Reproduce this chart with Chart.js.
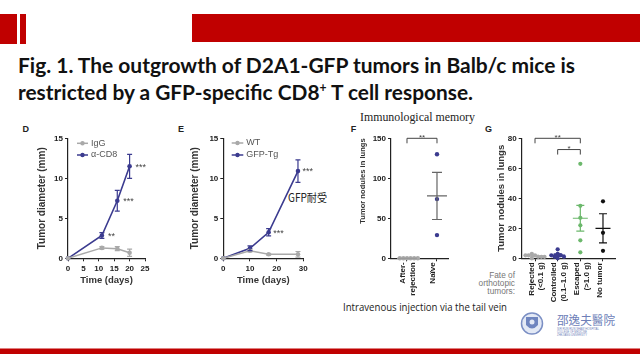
<!DOCTYPE html>
<html><head><meta charset="utf-8">
<script src="https://cdn.jsdelivr.net/npm/chart.js@4.4.0/dist/chart.umd.min.js"></script>
<style>
html,body{margin:0;padding:0;background:#fff;}
#stage{position:relative;width:640px;height:360px;overflow:hidden;background:#fff;}
canvas{position:absolute;}
svg{position:absolute;left:0;top:0;}
</style></head><body>
<div id="stage">
<svg width="640" height="360" xmlns="http://www.w3.org/2000/svg">
  <rect x="0" y="14" width="17" height="30" fill="#c00000"/>
  <rect x="20" y="14" width="6" height="30" fill="#c00000"/>
  <rect x="192" y="14" width="448" height="28" fill="#c00000"/>
  <text x="18" y="72.5" font-family="Lato, 'Open Sans', 'Liberation Sans', sans-serif" font-weight="700" font-size="21.5" textLength="557" lengthAdjust="spacingAndGlyphs" fill="#111">Fig. 1. The outgrowth of D2A1-GFP tumors in Balb/c mice is</text>
  <text x="18" y="99.5" font-family="Lato, 'Open Sans', 'Liberation Sans', sans-serif" font-weight="700" font-size="21.5" textLength="455" lengthAdjust="spacingAndGlyphs" fill="#111">restricted by a GFP-specific CD8<tspan dy="-7.5" font-size="12.5">+</tspan><tspan dy="7.5"> T cell response.</tspan></text>
  <text x="360" y="120.5" font-family="'Liberation Serif', 'DejaVu Serif', serif" font-size="11.5" textLength="115" lengthAdjust="spacingAndGlyphs" fill="#222">Immunological memory</text>
  <g font-family="'Liberation Sans', Arial, sans-serif" font-weight="700" font-size="9" fill="#222">
    <text x="22.5" y="131.5">D</text>
    <text x="178" y="131.5">E</text>
    <text x="350.7" y="131.5">F</text>
    <text x="485" y="131.5">G</text>
  </g>
  <text x="288" y="202" font-family="'Noto Sans CJK SC', sans-serif" font-size="11.5" textLength="39" lengthAdjust="spacingAndGlyphs" fill="#222">GFP耐受</text>
  <g font-family="'Liberation Sans', Arial, sans-serif" font-size="8.3" fill="#777" text-anchor="end">
    <text x="515" y="277.5">Fate of</text>
    <text x="515" y="285.5">orthotopic</text>
    <text x="515" y="293.5">tumors:</text>
  </g>
  <text x="343" y="311" font-family="'Open Sans', 'Liberation Sans', sans-serif" font-size="10" textLength="164" lengthAdjust="spacingAndGlyphs" fill="#222">Intravenous injection via the tail vein</text>
  <g>
    <circle cx="532" cy="323.5" r="10.5" fill="#e3e9f5" stroke="#7b8fc4" stroke-width="1.5"/>
    <path d="M526 317 L538 317 L538 325 Q532 332 526 325 Z" fill="#6f85bf"/>
    <circle cx="532" cy="322" r="2.5" fill="#e3e9f5"/>
  </g>
  <text x="557" y="325" font-family="'Noto Sans CJK TC', sans-serif" font-size="12" textLength="58" lengthAdjust="spacingAndGlyphs" fill="#6e80b8">邵逸夫醫院</text>
  <g font-family="'Liberation Sans', Arial, sans-serif" font-size="2.8" fill="#6e80b8">
    <text x="557" y="329.5" textLength="42" lengthAdjust="spacingAndGlyphs">SIR RUN RUN SHAW HOSPITAL</text>
    <text x="557" y="332.5" textLength="30" lengthAdjust="spacingAndGlyphs">COLLEGE OF MEDICINE</text>
    <text x="557" y="335.5" textLength="30" lengthAdjust="spacingAndGlyphs">ZHEJIANG UNIVERSITY</text>
  </g>
  <rect x="0" y="348.5" width="640" height="5.5" fill="#c00000"/>
</svg>
<canvas id="cD"></canvas>
<canvas id="cE"></canvas>
<canvas id="cF"></canvas>
<canvas id="cG"></canvas>
</div>
<script>
// ---------------- DATA ----------------
// Panel D
const daysD = [0, 11, 16, 20];
const iggMean = [0, 1.3, 1.2, 0.7];
const iggErr = [0, 0.15, 0.25, 0.45];
const cd8Mean = [0, 2.85, 7.2, 11.5];
const cd8Err = [0, 0.35, 1.3, 1.5];
const sigD = ['', '**', '***', '***'];
const xTicksD = [0, 5, 10, 15, 20, 25];
const yTicksD = [0, 5, 10, 15];

// Panel E
const daysE = [0, 10, 17, 28];
const wtMean = [0, 0.95, 0.5, 0.5];
const wtErr = [0, 0.15, 0.1, 0.35];
const gfpMean = [0, 1.25, 3.25, 10.9];
const gfpErr = [0, 0.3, 0.45, 1.4];
const sigE = ['', '', '***', '***'];
const xTicksE = [0, 10, 20, 30];
const yTicksE = [0, 5, 10, 15];

// Panel F
const groupsF = [['After-', 'rejection'], 'Naïve'];
const nodulesF = [[0, 0, 0, 0, 0, 0], [130, 74, 29]];
const meanF = [0, 78];
const semF = [0, 29.5];
const yTicksF = [0, 50, 100, 150];

// Panel G
const groupsG = [['Rejected', '(<0.1 g)'], ['Controlled', '(0.1–1.0 g)'], ['Escaped', '(>1.0 g)'], 'No tumor'];
const nodulesG = [[2, 1, 3, 1, 2, 0, 1, 2], [6, 3, 2, 1, 1, 2, 0], [63, 35, 27, 22, 12, 4], [38, 17, 5]];
const meanG = [1.5, 2.1, 26.7, 20];
const semG = [0.4, 0.8, 8.6, 9.7];
const yTicksG = [0, 20, 40, 60, 80];

// ---------------- STYLE ----------------
const NAVY = '#3b3b8f', GREY = '#a9a9a9', GREEN = '#6cb86c', AX = '#222';
Chart.defaults.font.family = '"Liberation Sans", Arial, sans-serif';
Chart.defaults.animation = false;

function setupCanvas(id, box) {
  const c = document.getElementById(id);
  c.width = box.w; c.height = box.h;
  Object.assign(c.style, {left: box.l + 'px', top: box.t + 'px', width: box.w + 'px', height: box.h + 'px'});
  return c;
}
function frame(box, area, yTitleX, yLh, xTitleY, xLh, xhFixed) {
  const yw = area.l - (yTitleX - yLh / 2);
  const xh = xTitleY != null ? (xTitleY + xLh / 2 - area.b) : xhFixed;
  return {yw, xh, padding: {left: area.l - yw - box.l, top: area.t - box.t, right: box.l + box.w - area.r, bottom: box.t + box.h - area.b - xh}};
}
const tickFont = {size: 8, weight: 'bold'};
function yAxis(vals, fr, title, tSize, align) {
  return {
    type: 'linear', position: 'left', min: vals[0], max: vals[vals.length - 1],
    afterBuildTicks: s => { s.ticks = vals.map(v => ({value: v})); },
    afterFit: s => { s.width = fr.yw; },
    grid: {display: true, drawOnChartArea: false, drawTicks: true, tickLength: 3, color: AX, lineWidth: 1},
    border: {display: true, color: AX, width: 1.2},
    ticks: {font: tickFont, color: '#222', padding: 2},
    title: {display: true, text: title, font: {size: tSize, weight: 'bold'}, color: '#333', padding: 0, align: align || 'center'}
  };
}
function xAxisNum(vals, fr) {
  return {
    type: 'linear', position: 'bottom', min: vals[0], max: vals[vals.length - 1],
    afterBuildTicks: s => { s.ticks = vals.map(v => ({value: v})); },
    afterFit: s => { s.height = fr.xh; },
    grid: {display: true, drawOnChartArea: false, drawTicks: true, tickLength: 3, color: AX, lineWidth: 1},
    border: {display: true, color: AX, width: 1.2},
    ticks: {font: tickFont, color: '#222', padding: 3, maxRotation: 0, autoSkip: false},
    title: {display: true, text: 'Time (days)', font: {size: 9.5, weight: 'bold'}, color: '#333', padding: 0}
  };
}
function xAxisCat(groups, fr, min, max, lo) {
  return {
    type: 'linear', position: 'bottom', min, max,
    afterBuildTicks: s => { s.ticks = groups.map((g, i) => ({value: i})); },
    afterFit: s => { s.height = fr.xh; },
    grid: {display: true, drawOnChartArea: false, drawTicks: true, tickLength: 3, color: AX, lineWidth: 1},
    border: {display: true, color: AX, width: 1.2},
    ticks: {font: tickFont, color: '#222', padding: 1, minRotation: 90, maxRotation: 90, autoSkip: false, labelOffset: lo,
      callback: v => groups[v]}
  };
}

// plugins
function makeLineExtras(cfg) {
  return {
    id: 'lineExtras',
    afterDatasetsDraw(chart) {
      const {ctx, chartArea} = chart; const ys = chart.scales.y;
      chart.data.datasets.forEach((ds, di) => {
        const meta = chart.getDatasetMeta(di);
        meta.data.forEach((pt, i) => {
          const e = ds.errors[i];
          const v = ds.data[i].y;
          if (e) {
            const yT = ys.getPixelForValue(v + e), yB = ys.getPixelForValue(v - e);
            ctx.save(); ctx.strokeStyle = ds.borderColor; ctx.lineWidth = 1.2;
            ctx.beginPath();
            ctx.moveTo(pt.x, yT); ctx.lineTo(pt.x, yB);
            ctx.moveTo(pt.x - 2.5, yT); ctx.lineTo(pt.x + 2.5, yT);
            ctx.moveTo(pt.x - 2.5, yB); ctx.lineTo(pt.x + 2.5, yB);
            ctx.stroke(); ctx.restore();
          }
          if (ds.sig && ds.sig[i]) {
            ctx.save(); ctx.font = '9px "Liberation Sans"'; ctx.fillStyle = '#444';
            ctx.textAlign = 'left'; ctx.textBaseline = 'alphabetic';
            ctx.fillText(ds.sig[i], pt.x + cfg.sigDx, pt.y + 3.2); ctx.restore();
          }
        });
      });
      // legend
      chart.data.datasets.forEach((ds, i) => {
        const y = chartArea.top + cfg.legDy + i * cfg.legGap;
        const x0 = chartArea.left + cfg.legDx;
        ctx.save();
        ctx.strokeStyle = ds.borderColor; ctx.lineWidth = 1.5;
        ctx.beginPath(); ctx.moveTo(x0, y); ctx.lineTo(x0 + cfg.legLen, y); ctx.stroke();
        ctx.fillStyle = ds.borderColor; ctx.beginPath(); ctx.arc(x0 + cfg.legLen / 2, y, 2.2, 0, Math.PI * 2); ctx.fill();
        ctx.font = '9px "Liberation Sans"'; ctx.fillStyle = '#555'; ctx.textBaseline = 'middle'; ctx.textAlign = 'left';
        ctx.fillText(ds.label, x0 + cfg.legLen + 3, y);
        ctx.restore();
      });
    }
  };
}
function makeSummary(cfg) {
  return {
    id: 'summary',
    afterDatasetsDraw(chart) {
      const {ctx} = chart; const xs = chart.scales.x, ys = chart.scales.y;
      cfg.means.forEach((m, i) => {
        const x = xs.getPixelForValue(i), c = cfg.colors[i];
        const ym = ys.getPixelForValue(m);
        const yt = ys.getPixelForValue(m + cfg.sems[i]), yb = ys.getPixelForValue(Math.max(0, m - cfg.sems[i]));
        ctx.save(); ctx.strokeStyle = c; ctx.lineWidth = 1.2; ctx.beginPath();
        ctx.moveTo(x - cfg.meanHalf, ym); ctx.lineTo(x + cfg.meanHalf, ym);
        if (cfg.sems[i] > 0) {
          ctx.moveTo(x, yt); ctx.lineTo(x, yb);
          ctx.moveTo(x - cfg.capHalf, yt); ctx.lineTo(x + cfg.capHalf, yt);
          ctx.moveTo(x - cfg.capHalf, yb); ctx.lineTo(x + cfg.capHalf, yb);
        }
        ctx.stroke(); ctx.restore();
      });
      cfg.brackets.forEach(b => {
        const xa = xs.getPixelForValue(b.a), xb = xs.getPixelForValue(b.b), y = ys.getPixelForValue(b.y);
        ctx.save(); ctx.strokeStyle = '#444'; ctx.lineWidth = 1; ctx.beginPath();
        ctx.moveTo(xa, y + 5); ctx.lineTo(xa, y); ctx.lineTo(xb, y); ctx.lineTo(xb, y + 5); ctx.stroke();
        ctx.font = '8px "Liberation Sans"'; ctx.fillStyle = '#444'; ctx.textAlign = 'center'; ctx.textBaseline = 'alphabetic';
        ctx.fillText(b.label, (xa + xb) / 2, y + 1.5);
        ctx.restore();
      });
    }
  };
}
function swarm(vals, center, yRange, step) {
  const placed = [];
  const offs = [0];
  for (let i = 1; i < 12; i++) offs.push(i * step, -i * step);
  return vals.map(v => {
    for (const o of offs) {
      if (!placed.some(p => Math.abs(p.y - v) < yRange * 0.035 && Math.abs(p.o - o) < step * 0.9)) {
        placed.push({y: v, o}); return {x: center + o, y: v};
      }
    }
    return {x: center, y: v};
  });
}
const pts = (xs, ys) => xs.map((x, i) => ({x, y: ys[i]}));

// ---------------- PANEL D ----------------
{
  const box = {l: 20, t: 118, w: 145, h: 180}, area = {l: 68, t: 138.3, r: 145, b: 258.3};
  const fr = frame(box, area, 42.7, 12, 280.7, 11.4);
  new Chart(setupCanvas('cD', box), {
    type: 'line',
    data: {datasets: [
      {label: 'IgG', data: pts(daysD, iggMean), errors: iggErr, borderColor: GREY, backgroundColor: GREY, pointBackgroundColor: GREY, borderWidth: 1.5, pointRadius: 2.3, pointBorderWidth: 0, clip: false},
      {label: 'α-CD8', data: pts(daysD, cd8Mean), errors: cd8Err, sig: sigD, borderColor: NAVY, backgroundColor: NAVY, pointBackgroundColor: NAVY, borderWidth: 1.6, pointRadius: 2.3, pointBorderWidth: 0, clip: false}
    ]},
    options: {responsive: false, layout: {padding: fr.padding},
      plugins: {legend: {display: false}, tooltip: {enabled: false}},
      scales: {x: xAxisNum(xTicksD, fr), y: yAxis(yTicksD, fr, 'Tumor diameter (mm)', 10)}},
    plugins: [makeLineExtras({sigDx: 6, legDx: 9, legDy: 5, legGap: 11.7, legLen: 11})]
  });
}
// ---------------- PANEL E ----------------
{
  const box = {l: 175, t: 118, w: 145, h: 180}, area = {l: 223.3, t: 138.3, r: 303.3, b: 258.3};
  const fr = frame(box, area, 195.7, 12, 280.7, 11.4);
  new Chart(setupCanvas('cE', box), {
    type: 'line',
    data: {datasets: [
      {label: 'WT', data: pts(daysE, wtMean), errors: wtErr, borderColor: GREY, backgroundColor: GREY, pointBackgroundColor: GREY, borderWidth: 1.5, pointRadius: 2.3, pointBorderWidth: 0, clip: false},
      {label: 'GFP-Tg', data: pts(daysE, gfpMean), errors: gfpErr, sig: sigE, borderColor: NAVY, backgroundColor: NAVY, pointBackgroundColor: NAVY, borderWidth: 1.6, pointRadius: 2.3, pointBorderWidth: 0, clip: false}
    ]},
    options: {responsive: false, layout: {padding: fr.padding},
      plugins: {legend: {display: false}, tooltip: {enabled: false}},
      scales: {x: xAxisNum(xTicksE, fr), y: yAxis(yTicksE, fr, 'Tumor diameter (mm)', 10)}},
    plugins: [makeLineExtras({sigDx: 4.5, legDx: 8.4, legDy: 4.7, legGap: 12, legLen: 11.6})]
  });
}
// ---------------- PANEL F ----------------
{
  const box = {l: 335, t: 118, w: 125, h: 195}, area = {l: 391, t: 138.3, r: 448.3, b: 258.3};
  const fr = frame(box, area, 363.3, 9.1, null, 0, 45);
  const colorsF = [GREY, NAVY];
  new Chart(setupCanvas('cF', box), {
    type: 'scatter',
    data: {datasets: nodulesF.map((vals, i) => ({
      data: swarm(vals, i, 150, 0.12), backgroundColor: colorsF[i], borderWidth: 0, pointRadius: 2.2, clip: false
    }))},
    options: {responsive: false, layout: {padding: fr.padding},
      plugins: {legend: {display: false}, tooltip: {enabled: false}},
      scales: {x: xAxisCat(groupsF, fr, -0.533, 1.377, -4), y: yAxis(yTicksF, fr, 'Tumor nodules in lungs', 7.6, 'end')}},
    plugins: [makeSummary({means: meanF, sems: semF, colors: ['#999', '#666'], meanHalf: 10, capHalf: 5,
      brackets: [{a: 0, b: 1, y: 150, label: '**'}]})]
  });
}
// ---------------- PANEL G ----------------
{
  const box = {l: 468, t: 118, w: 167, h: 195}, area = {l: 521.7, t: 138.3, r: 615, b: 258.3};
  const fr = frame(box, area, 501.7, 11.4, null, 0, 45);
  const colorsG = [GREY, NAVY, GREEN, '#111'];
  new Chart(setupCanvas('cG', box), {
    type: 'scatter',
    data: {datasets: nodulesG.map((vals, i) => ({
      data: swarm(vals, i, 80, 0.14), backgroundColor: colorsG[i], borderWidth: 0, pointRadius: 2.1, clip: false
    }))},
    options: {responsive: false, layout: {padding: fr.padding},
      plugins: {legend: {display: false}, tooltip: {enabled: false}},
      scales: {x: xAxisCat(groupsG, fr, -0.587, 3.53, -3.5), y: yAxis(yTicksG, fr, 'Tumor nodules in lungs', 9.5)}},
    plugins: [makeSummary({means: meanG, sems: semG, colors: colorsG, meanHalf: 7.5, capHalf: 4,
      brackets: [{a: 0, b: 2, y: 80, label: '**'}, {a: 1, b: 2, y: 72.5, label: '*'}]})]
  });
}
</script>
</body></html>
